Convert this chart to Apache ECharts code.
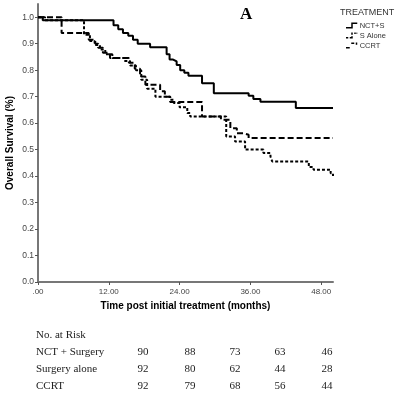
<!DOCTYPE html>
<html>
<head>
<meta charset="utf-8">
<script src="https://cdn.jsdelivr.net/npm/echarts@6/dist/echarts.min.js"></script>
<style>html,body{margin:0;padding:0;background:#fff}#c{width:398px;height:395px}</style>
</head>
<body>
<div id="c"></div>
<script>
// Kaplan-Meier step points: [time (months), survival]
const nctS = [[0,1.0],[0.8,0.989],[12.8,0.97],[13.6,0.955],[14.4,0.94],[15.3,0.93],[16.1,0.915],[16.9,0.90],[19.0,0.887],[21.8,0.86],[22.3,0.84],[22.9,0.833],[23.5,0.82],[24.1,0.80],[24.8,0.79],[25.5,0.779],[27.8,0.751],[29.8,0.713],[35.7,0.703],[36.5,0.691],[37.7,0.681],[43.7,0.657],[50,0.657]];
const sAlone = [[0,1.0],[1.2,0.989],[7.8,0.934],[8.8,0.91],[9.6,0.895],[10.5,0.878],[11.4,0.86],[12.6,0.846],[14.6,0.835],[15.6,0.818],[16.6,0.80],[17.5,0.764],[18.5,0.73],[19.9,0.70],[22.4,0.688],[23.0,0.676],[24.0,0.66],[25.3,0.638],[25.8,0.625],[31.9,0.55],[33.4,0.531],[35.1,0.50],[38.2,0.487],[39.4,0.474],[39.7,0.455],[45.9,0.434],[46.7,0.424],[49.6,0.411],[50,0.40]];
const ccrt = [[0,1.0],[4.0,0.94],[8.6,0.915],[9.7,0.90],[10.2,0.885],[11.0,0.866],[12.2,0.846],[15.4,0.828],[16.4,0.805],[17.3,0.776],[18.2,0.745],[20.7,0.72],[21.5,0.70],[22.4,0.68],[27.8,0.625],[31.0,0.613],[32.6,0.581],[33.7,0.562],[34.8,0.556],[35.7,0.544],[50,0.544]];

const seriesNames = ['NCT+S','S Alone','CCRT'];
const xTicks = [0,12,24,36,48];
const yTicks = [0,0.1,0.2,0.3,0.4,0.5,0.6,0.7,0.8,0.9,1.0];

const riskRows = ['NCT + Surgery','Surgery alone','CCRT'];
const riskNct = [90,88,73,63,46];
const riskSurg = [92,80,62,44,28];
const riskCcrt = [92,79,68,56,44];

const chart = echarts.init(document.getElementById('c'));
const sans = 'Liberation Sans, Arial, sans-serif';
const serif = 'Liberation Serif, Times New Roman, serif';

const graphics = [];
graphics.push({type:'text', x:36, y:335, style:{text:'No. at Risk', fontFamily:serif, fontSize:11, fill:'#222', align:'left', verticalAlign:'middle'}});
const colX = [143,190,235,280,327];
const rowY = [352.5,369.5,386.5];
[riskNct, riskSurg, riskCcrt].forEach((row, i) => {
  graphics.push({type:'text', x:36, y:rowY[i], style:{text:riskRows[i], fontFamily:serif, fontSize:11, fill:'#222', align:'left', verticalAlign:'middle'}});
  row.forEach((v, j) => {
    graphics.push({type:'text', x:colX[j], y:rowY[i], style:{text:String(v), fontFamily:serif, fontSize:11, fill:'#222', align:'center', verticalAlign:'middle'}});
  });
});

// legend icons: small step shapes (solid / short dash / long dash)
const iconSolid = 'path://M0,7L7,7L7,1L15,1L15,3L9,3L9,9L0,9Z';
const iconShort = 'path://M0,7L3,7L3,9L0,9Z M5,7L7,7L7,9L5,9Z M7,1L9,1L9,4L7,4Z M7,6L9,6L9,9L7,9Z M11,1L13,1L13,3L11,3Z M14,1L15,1L15,3L14,3Z';
const iconLong = 'path://M0,7L5,7L5,9L0,9Z M7,1L11,1L11,3L7,3Z M13,1L15,1L15,4L13,4Z';

const mk = (name, data, type) => ({
  name, type:'line', step:'end', data, symbol:'none', animation:false,
  lineStyle:{color:'#000', width:2, type}, itemStyle:{color:'#000'}
});

chart.setOption({
  animation:false,
  backgroundColor:'#fff',
  title:[
    {text:'A', left:240, top:6, padding:0, textStyle:{fontFamily:serif, fontWeight:'bold', fontSize:17, color:'#000'}},
    {text:'TREATMENT', left:340, top:8, padding:0, textStyle:{fontFamily:sans, fontWeight:'normal', fontSize:9, color:'#333'}}
  ],
  legend:{
    orient:'vertical', left:346, top:21, itemWidth:14, itemHeight:6, itemGap:1, padding:0,
    data:[{name:seriesNames[0], icon:iconSolid},{name:seriesNames[1], icon:iconShort},{name:seriesNames[2], icon:iconLong}],
    textStyle:{fontFamily:sans, fontSize:7.5, lineHeight:9, color:'#333', padding:[0,0,0,-4]}
  },
  grid:{left:38, right:65, top:4, bottom:113, containLabel:false, outerBoundsMode:'none'},
  xAxis:{
    type:'value', min:0, max:50,
    name:'Time post initial treatment (months)', nameLocation:'middle', nameGap:19,
    nameTextStyle:{fontFamily:sans, fontWeight:'bold', fontSize:10, color:'#000'},
    axisLine:{lineStyle:{color:'#777', width:2}},
    axisTick:{show:true, length:3, customValues:xTicks, lineStyle:{color:'#555', width:1}},
    axisLabel:{customValues:xTicks, formatter:v => v===0 ? '.00' : v.toFixed(2), fontFamily:sans, fontSize:8, color:'#444', margin:6},
    splitLine:{show:false}
  },
  yAxis:{
    type:'value', min:0, max:1.05,
    name:'Overall Survival (%)', nameLocation:'middle', nameGap:23, nameMoveOverlap:false,
    nameTextStyle:{fontFamily:sans, fontWeight:'bold', fontSize:10, color:'#000'},
    axisLine:{show:true, lineStyle:{color:'#777', width:2}},
    axisTick:{show:true, length:3, customValues:yTicks, lineStyle:{color:'#555', width:1}},
    axisLabel:{customValues:yTicks, formatter:v => v.toFixed(1), fontFamily:sans, fontSize:8.5, color:'#444', margin:4},
    splitLine:{show:false}
  },
  series:[
    mk(seriesNames[0], nctS, 'solid'),
    mk(seriesNames[1], sAlone, [3,2]),
    mk(seriesNames[2], ccrt, [6,3])
  ],
  graphic:graphics
});
</script>
</body>
</html>
